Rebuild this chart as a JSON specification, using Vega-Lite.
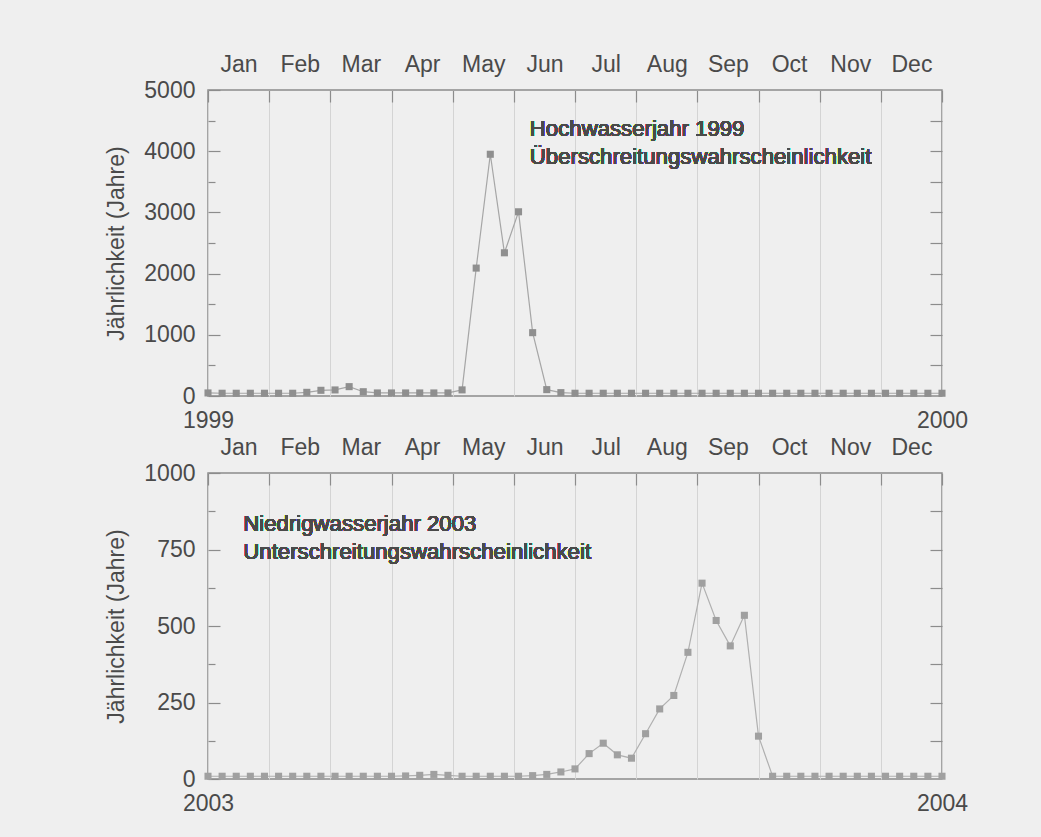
{
  "$schema": "https://vega.github.io/schema/vega-lite/v6.json",
  "background": "#efefef",
  "padding": {"left": 105, "top": 52, "right": 68, "bottom": 21},
  "bounds": "flush",
  "spacing": 77,
  "config": {
    "font": "Liberation Sans",
    "view": {"stroke": "#8c8c8c", "strokeWidth": 1.5},
    "axis": {
      "labelFont": "Liberation Sans",
      "labelFontSize": 23,
      "labelColor": "#4a4a4a",
      "titleFont": "Liberation Sans",
      "titleFontSize": 23,
      "titleFontWeight": "normal",
      "titleColor": "#4a4a4a",
      "tickColor": "#8c8c8c",
      "tickWidth": 1.2,
      "domain": false,
      "grid": false,
      "labelOverlap": false,
      "labelFlush": false,
      "labelBound": false
    }
  },
  "datasets": {
    "hw1999": [
      {"woche": 0, "jaehrlichkeit": 50}, {"woche": 1, "jaehrlichkeit": 45}, {"woche": 2, "jaehrlichkeit": 45},
      {"woche": 3, "jaehrlichkeit": 45}, {"woche": 4, "jaehrlichkeit": 45}, {"woche": 5, "jaehrlichkeit": 45},
      {"woche": 6, "jaehrlichkeit": 45}, {"woche": 7, "jaehrlichkeit": 60}, {"woche": 8, "jaehrlichkeit": 93},
      {"woche": 9, "jaehrlichkeit": 99}, {"woche": 10, "jaehrlichkeit": 153}, {"woche": 11, "jaehrlichkeit": 70},
      {"woche": 12, "jaehrlichkeit": 50}, {"woche": 13, "jaehrlichkeit": 50}, {"woche": 14, "jaehrlichkeit": 50},
      {"woche": 15, "jaehrlichkeit": 50}, {"woche": 16, "jaehrlichkeit": 50}, {"woche": 17, "jaehrlichkeit": 50},
      {"woche": 18, "jaehrlichkeit": 100}, {"woche": 19, "jaehrlichkeit": 2090}, {"woche": 20, "jaehrlichkeit": 3950},
      {"woche": 21, "jaehrlichkeit": 2340}, {"woche": 22, "jaehrlichkeit": 3010}, {"woche": 23, "jaehrlichkeit": 1035},
      {"woche": 24, "jaehrlichkeit": 104}, {"woche": 25, "jaehrlichkeit": 55}, {"woche": 26, "jaehrlichkeit": 45},
      {"woche": 27, "jaehrlichkeit": 45}, {"woche": 28, "jaehrlichkeit": 45}, {"woche": 29, "jaehrlichkeit": 45},
      {"woche": 30, "jaehrlichkeit": 45}, {"woche": 31, "jaehrlichkeit": 45}, {"woche": 32, "jaehrlichkeit": 45},
      {"woche": 33, "jaehrlichkeit": 45}, {"woche": 34, "jaehrlichkeit": 45}, {"woche": 35, "jaehrlichkeit": 45},
      {"woche": 36, "jaehrlichkeit": 45}, {"woche": 37, "jaehrlichkeit": 45}, {"woche": 38, "jaehrlichkeit": 45},
      {"woche": 39, "jaehrlichkeit": 45}, {"woche": 40, "jaehrlichkeit": 45}, {"woche": 41, "jaehrlichkeit": 45},
      {"woche": 42, "jaehrlichkeit": 45}, {"woche": 43, "jaehrlichkeit": 45}, {"woche": 44, "jaehrlichkeit": 45},
      {"woche": 45, "jaehrlichkeit": 45}, {"woche": 46, "jaehrlichkeit": 45}, {"woche": 47, "jaehrlichkeit": 45},
      {"woche": 48, "jaehrlichkeit": 45}, {"woche": 49, "jaehrlichkeit": 45}, {"woche": 50, "jaehrlichkeit": 45},
      {"woche": 51, "jaehrlichkeit": 45}, {"woche": 52, "jaehrlichkeit": 45}
    ],
    "nw2003": [
      {"woche": 0, "jaehrlichkeit": 9}, {"woche": 1, "jaehrlichkeit": 9}, {"woche": 2, "jaehrlichkeit": 9},
      {"woche": 3, "jaehrlichkeit": 9}, {"woche": 4, "jaehrlichkeit": 9}, {"woche": 5, "jaehrlichkeit": 9},
      {"woche": 6, "jaehrlichkeit": 9}, {"woche": 7, "jaehrlichkeit": 9}, {"woche": 8, "jaehrlichkeit": 9},
      {"woche": 9, "jaehrlichkeit": 9}, {"woche": 10, "jaehrlichkeit": 9}, {"woche": 11, "jaehrlichkeit": 9},
      {"woche": 12, "jaehrlichkeit": 9}, {"woche": 13, "jaehrlichkeit": 9}, {"woche": 14, "jaehrlichkeit": 10},
      {"woche": 15, "jaehrlichkeit": 12}, {"woche": 16, "jaehrlichkeit": 15}, {"woche": 17, "jaehrlichkeit": 12},
      {"woche": 18, "jaehrlichkeit": 9}, {"woche": 19, "jaehrlichkeit": 9}, {"woche": 20, "jaehrlichkeit": 9},
      {"woche": 21, "jaehrlichkeit": 9}, {"woche": 22, "jaehrlichkeit": 9}, {"woche": 23, "jaehrlichkeit": 11},
      {"woche": 24, "jaehrlichkeit": 15}, {"woche": 25, "jaehrlichkeit": 23}, {"woche": 26, "jaehrlichkeit": 33},
      {"woche": 27, "jaehrlichkeit": 83}, {"woche": 28, "jaehrlichkeit": 117}, {"woche": 29, "jaehrlichkeit": 79},
      {"woche": 30, "jaehrlichkeit": 68}, {"woche": 31, "jaehrlichkeit": 148}, {"woche": 32, "jaehrlichkeit": 229},
      {"woche": 33, "jaehrlichkeit": 273}, {"woche": 34, "jaehrlichkeit": 414}, {"woche": 35, "jaehrlichkeit": 640},
      {"woche": 36, "jaehrlichkeit": 518}, {"woche": 37, "jaehrlichkeit": 435}, {"woche": 38, "jaehrlichkeit": 535},
      {"woche": 39, "jaehrlichkeit": 140}, {"woche": 40, "jaehrlichkeit": 9}, {"woche": 41, "jaehrlichkeit": 9},
      {"woche": 42, "jaehrlichkeit": 9}, {"woche": 43, "jaehrlichkeit": 9}, {"woche": 44, "jaehrlichkeit": 9},
      {"woche": 45, "jaehrlichkeit": 9}, {"woche": 46, "jaehrlichkeit": 9}, {"woche": 47, "jaehrlichkeit": 9},
      {"woche": 48, "jaehrlichkeit": 9}, {"woche": 49, "jaehrlichkeit": 9}, {"woche": 50, "jaehrlichkeit": 9},
      {"woche": 51, "jaehrlichkeit": 9}, {"woche": 52, "jaehrlichkeit": 9}
    ]
  },
  "vconcat": [
    {
      "width": 734,
      "height": 306,
      "data": {"name": "hw1999"},
      "resolve": {"axis": {"x": "independent", "y": "independent"}},
      "layer": [
        {
          "mark": {"type": "line", "color": "#a6a6a6", "strokeWidth": 1.2},
          "encoding": {
            "x": {"field": "woche", "type": "quantitative", "scale": {"domain": [0, 52], "nice": false, "zero": false},
              "axis": {"orient": "top", "title": null, "values": [0, 4.3333, 8.6667, 13, 17.3333, 21.6667, 26, 30.3333, 34.6667, 39, 43.3333, 47.6667, 52],
                "labelExpr": "['Jan','Feb','Mar','Apr','May','Jun','Jul','Aug','Sep','Oct','Nov','Dec',''][round(datum.value*12/52)]",
                "labelOffset": 30.6, "tickSize": -12, "labelPadding": 26, "grid": true, "gridColor": "#d4d4d4", "gridWidth": 1}},
            "y": {"field": "jaehrlichkeit", "type": "quantitative", "scale": {"domain": [0, 5000], "nice": false},
              "axis": {"orient": "left", "title": "Jährlichkeit (Jahre)", "titlePadding": 15, "format": "d",
                "values": [0, 500, 1000, 1500, 2000, 2500, 3000, 3500, 4000, 4500, 5000],
                "labelExpr": "datum.value % 1000 === 0 ? datum.label : ''",
                "tickSize": {"condition": {"test": "datum.value % 1000 === 0", "value": -12}, "value": -7},
                "labelPadding": 25}}
          }
        },
        {
          "mark": {"type": "point", "shape": "square", "filled": true, "color": "#8f8f8f", "size": 50, "opacity": 1},
          "encoding": {
            "x": {"field": "woche", "type": "quantitative",
              "axis": {"orient": "bottom", "title": null, "values": [0, 52], "ticks": false,
                "labelExpr": "datum.value === 0 ? '1999' : '2000'", "labelPadding": 13}},
            "y": {"field": "jaehrlichkeit", "type": "quantitative",
              "axis": {"orient": "right", "title": null, "labels": false, "tickSize": -12,
                "values": [500, 1000, 1500, 2000, 2500, 3000, 3500, 4000, 4500]}}
          }
        },
        {
          "mark": {"type": "text", "align": "left", "baseline": "alphabetic", "fontSize": 22.2, "font": "Liberation Sans", "color": "#4a4a4a", "lineHeight": 28},
          "encoding": {
            "x": {"datum": 22.8, "type": "quantitative", "axis": null},
            "y": {"datum": 4250, "type": "quantitative", "axis": null},
            "text": {"value": ["Hochwasserjahr 1999", "Überschreitungswahrscheinlichkeit"]}
          }
        }
      ]
    },
    {
      "width": 734,
      "height": 306,
      "data": {"name": "nw2003"},
      "resolve": {"axis": {"x": "independent", "y": "independent"}},
      "layer": [
        {
          "mark": {"type": "line", "color": "#b0b0b0", "strokeWidth": 1.2},
          "encoding": {
            "x": {"field": "woche", "type": "quantitative", "scale": {"domain": [0, 52], "nice": false, "zero": false},
              "axis": {"orient": "top", "title": null, "values": [0, 4.3333, 8.6667, 13, 17.3333, 21.6667, 26, 30.3333, 34.6667, 39, 43.3333, 47.6667, 52],
                "labelExpr": "['Jan','Feb','Mar','Apr','May','Jun','Jul','Aug','Sep','Oct','Nov','Dec',''][round(datum.value*12/52)]",
                "labelOffset": 30.6, "tickSize": -12, "labelPadding": 26, "grid": true, "gridColor": "#d4d4d4", "gridWidth": 1}},
            "y": {"field": "jaehrlichkeit", "type": "quantitative", "scale": {"domain": [0, 1000], "nice": false},
              "axis": {"orient": "left", "title": "Jährlichkeit (Jahre)", "titlePadding": 15, "format": "d",
                "values": [0, 125, 250, 375, 500, 625, 750, 875, 1000],
                "labelExpr": "datum.value % 250 === 0 ? datum.label : ''",
                "tickSize": {"condition": {"test": "datum.value % 250 === 0", "value": -12}, "value": -7},
                "labelPadding": 25}}
          }
        },
        {
          "mark": {"type": "point", "shape": "square", "filled": true, "color": "#a0a0a0", "size": 50, "opacity": 1},
          "encoding": {
            "x": {"field": "woche", "type": "quantitative",
              "axis": {"orient": "bottom", "title": null, "values": [0, 52], "ticks": false,
                "labelExpr": "datum.value === 0 ? '2003' : '2004'", "labelPadding": 13}},
            "y": {"field": "jaehrlichkeit", "type": "quantitative",
              "axis": {"orient": "right", "title": null, "labels": false, "tickSize": -12,
                "values": [125, 250, 375, 500, 625, 750, 875]}}
          }
        },
        {
          "mark": {"type": "text", "align": "left", "baseline": "alphabetic", "fontSize": 22.2, "font": "Liberation Sans", "color": "#4a4a4a", "lineHeight": 28},
          "encoding": {
            "x": {"datum": 2.5, "type": "quantitative", "axis": null},
            "y": {"datum": 812, "type": "quantitative", "axis": null},
            "text": {"value": ["Niedrigwasserjahr 2003", "Unterschreitungswahrscheinlichkeit"]}
          }
        }
      ]
    }
  ]
}
